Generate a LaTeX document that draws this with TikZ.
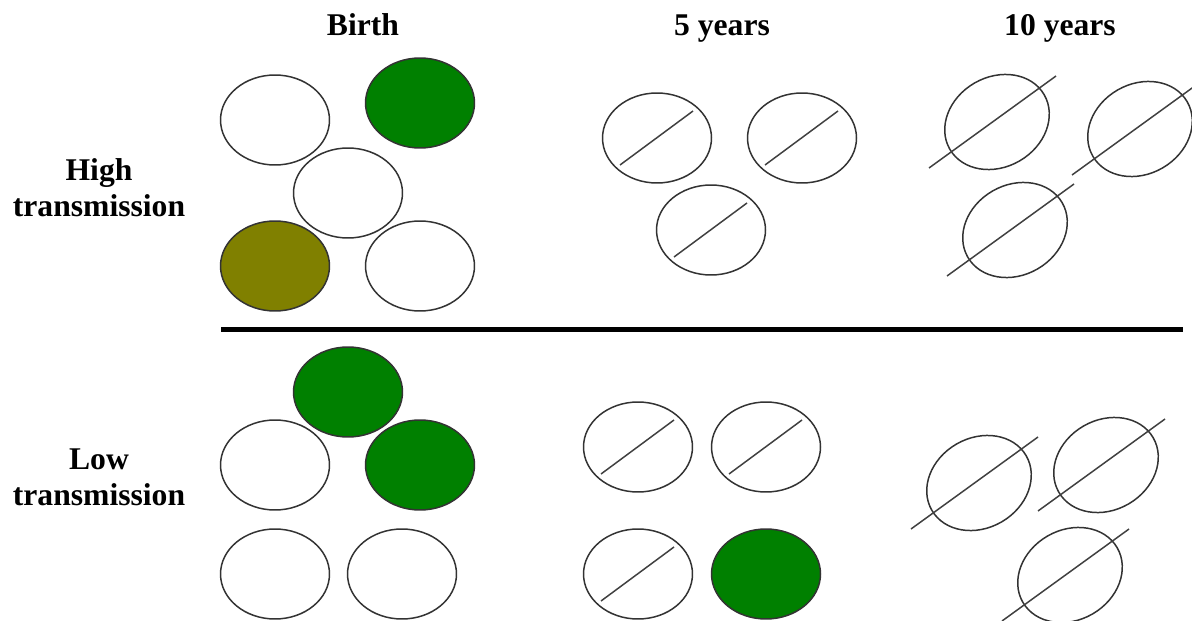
\documentclass[tikz,border=0pt]{standalone}
\usepackage{fontspec}
\setmainfont{Liberation Serif}
\usetikzlibrary{shapes.geometric}
\definecolor{livegreen}{RGB}{0,128,0}
\definecolor{olivecell}{RGB}{128,128,0}

\begin{document}
\begin{tikzpicture}[
  x=0.02cm, y=-0.02cm,
  cell/.style={ellipse, draw=black!80, line width=0.85pt, minimum width=2.18cm, minimum height=1.8cm, inner sep=0pt},
  old/.style={cell, rotate=30},
  slash/.style={draw=black!75, line width=0.85pt},
  head/.style={font=\fontsize{18}{20.5}\selectfont\bfseries, anchor=base, inner sep=0pt},
  rowlab/.style={font=\fontsize{18}{20.5}\selectfont\bfseries, align=center, inner sep=0pt}
]
\useasboundingbox (0,0) rectangle (1192,621);

% column and row titles
\node[head] (birth) at (363,36) {Birth};
\node[head] (five) at (722,36) {5 years};
\node[head] (ten) at (1060,36) {10 years};
\node[rowlab] (high) at (99,188) {High\\transmission};
\node[rowlab] (low) at (99,477) {Low\\transmission};

% high transmission
\node[cell] (hb1) at (275,120) {};
\node[cell, fill=livegreen] (hb2) at (420,103) {};
\node[cell] (hb3) at (348,193) {};
\node[cell, fill=olivecell] (hb4) at (275,266) {};
\node[cell] (hb5) at (420,266) {};

\node[cell] (h5a) at (657,138) {};
\node[cell] (h5b) at (802,138) {};
\node[cell] (h5c) at (711,230) {};

\node[old] (h10a) at (997,122) {};
\node[old] (h10b) at (1140,129) {};
\node[old] (h10c) at (1015,230) {};

% separator
\coordinate (sepl) at (221,329);
\coordinate (sepr) at (1183,329);
\draw[line width=0.1cm] (sepl) -- (sepr);

% low transmission
\node[cell, fill=livegreen] (lb1) at (348,392) {};
\node[cell] (lb2) at (275,465) {};
\node[cell, fill=livegreen] (lb3) at (420,465) {};
\node[cell] (lb4) at (275,574) {};
\node[cell] (lb5) at (402,574) {};

\node[cell] (l5a) at (638,447) {};
\node[cell] (l5b) at (766,447) {};
\node[cell] (l5c) at (638,574) {};
\node[cell, fill=livegreen] (l5d) at (766,574) {};

\node[old] (l10a) at (979,483) {};
\node[old] (l10b) at (1106,465) {};
\node[old] (l10c) at (1070,575) {};

% slashes
\foreach \c in {h5a,h5b,h5c,l5a,l5b,l5c}
  \draw[slash, shift={(\c)}] (-37,27) -- (36,-27);
\foreach \c in {h10a,h10b,h10c,l10a,l10b,l10c}
  \draw[slash, shift={(\c)}] (-68,46) -- (59,-46);
\end{tikzpicture}
\end{document}
